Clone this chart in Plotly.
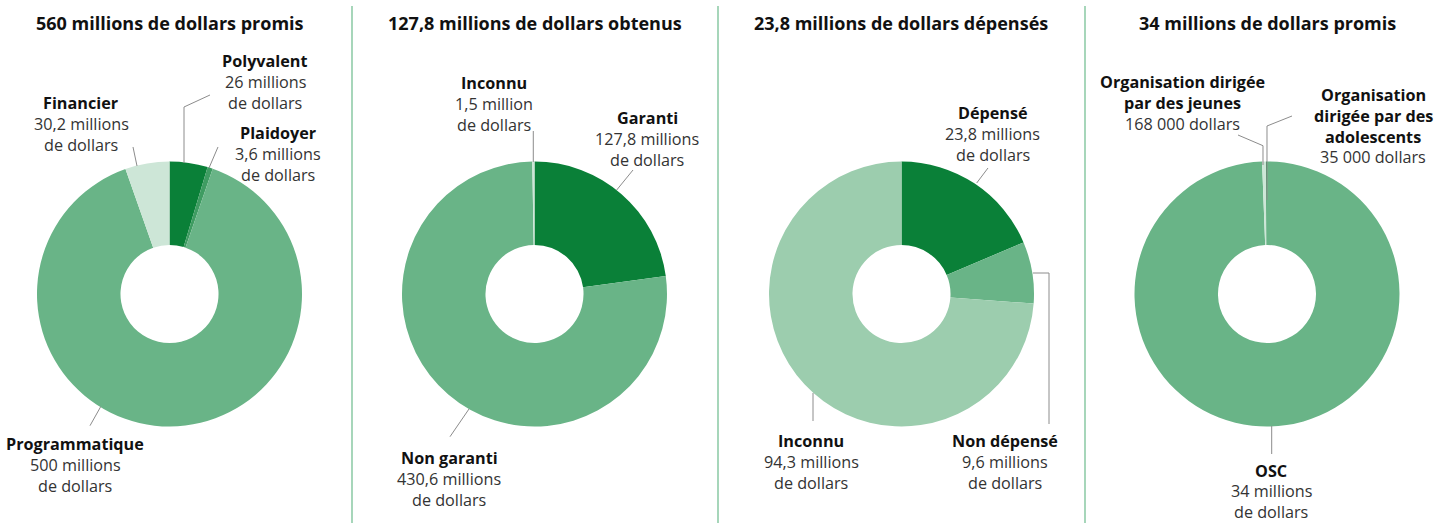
import plotly.graph_objects as go

W, H = 1439, 523

# ---- data (values in millions of dollars) ----
titles = [
    "560 millions de dollars promis",
    "127,8 millions de dollars obtenus",
    "23,8 millions de dollars dépensés",
    "34 millions de dollars promis",
]

promis_labels = ["Polyvalent", "Plaidoyer", "Programmatique", "Financier"]
promis_values = [26, 3.6, 500, 30.2]

obtenus_labels = ["Garanti", "Non garanti", "Inconnu"]
obtenus_values = [127.8, 430.6, 1.5]

depenses_labels = ["Dépensé", "Non dépensé", "Inconnu"]
depenses_values = [23.8, 9.6, 94.3]

osc_labels = ["OSC", "Organisation dirigée\npar des jeunes", "Organisation\ndirigée par des\nadolescents"]
osc_values = [34, 0.168, 0.035]

# ---- styling ----
DARK = "#0a8038"
MID = "#69b487"
MIDDARK = "#3f9c62"
LIGHT = "#9ccdae"
PALE = "#cde6d7"
SEP = "#6cbb8c"
LEADER = "#8c8c8c"
FONT = "Open Sans"

charts = [
    dict(labels=promis_labels, values=promis_values, colors=[DARK, MIDDARK, MID, PALE], cx=169.5),
    dict(labels=obtenus_labels, values=obtenus_values, colors=[DARK, MID, PALE], cx=534.5),
    dict(labels=depenses_labels, values=depenses_values, colors=[DARK, MID, LIGHT], cx=901.5),
    dict(labels=osc_labels, values=osc_values, colors=[MID, PALE, DARK], cx=1267),
]

CY, R, HOLE = 294, 132.5, 0.37

# label placement (centre x, y of first line) and leader paths, in pixels
placement = [
    [((265, 61), [(210, 95), (184, 107), (184, 163)]),
     ((278, 133), [(218, 147), (209, 168)]),
     ((75, 444), [(100.7, 406.7), (90, 425.7)]),
     ((81, 103), [(133, 147), (137, 166)])],
    [((647, 118), [(633, 170), (616.7, 190)]),
     ((449, 458), [(469, 409), (450, 436.7)]),
     ((494, 83), [(533.3, 131), (533.3, 162)])],
    [((993, 113), [(988, 168), (976.7, 183)]),
     ((1005, 441), [(1033, 273), (1049, 273), (1049, 424)]),
     ((811, 441), [(813, 393), (813, 421)])],
    [((1271, 470.5), [(1271.7, 426), (1271.7, 454)]),
     ((1182, 82), [(1238, 135), (1263, 145.7), (1263, 165)]),
     ((1373, 95), [(1292, 116), (1267, 126), (1267, 200)])],
]
LINE_H = 20.8


def px(x):
    return x / W


def py(y):
    return 1 - y / H


def fmt_value(v):
    if v >= 1:
        s = (f"{v:.1f}" if v != int(v) else f"{int(v)}").replace(".", ",")
        unit = "million" if v < 2 else "millions"
        return [f"{s} {unit}", "de dollars"]
    dollars = int(round(v * 1_000_000))
    return [f"{dollars:,}".replace(",", " ") + " dollars"]


fig = go.Figure()
annotations = []
shapes = []

for ci, ch in enumerate(charts):
    cx = ch["cx"]
    fig.add_trace(go.Pie(
        labels=[l.replace("\n", " ") for l in ch["labels"]],
        values=ch["values"],
        hole=HOLE,
        sort=False,
        direction="clockwise",
        rotation=0,
        textinfo="none",
        marker=dict(colors=ch["colors"], line=dict(width=0)),
        domain=dict(x=[px(cx - R), px(cx + R)], y=[py(CY + R), py(CY - R)]),
        showlegend=False,
        hoverinfo="label+value",
    ))
    annotations.append(dict(
        x=px(cx), y=py(23), xref="paper", yref="paper", text=titles[ci],
        showarrow=False, xanchor="center", yanchor="middle",
        font=dict(family=FONT, size=18, color="#111111", weight=700),
    ))
    for li, (lab, val) in enumerate(zip(ch["labels"], ch["values"])):
        (lx, ly), path = placement[ci][li]
        lines = [(t, True) for t in lab.split("\n")] + [(t, False) for t in fmt_value(val)]
        for k, (t, bold) in enumerate(lines):
            annotations.append(dict(
                x=px(lx), y=py(ly + k * LINE_H), xref="paper", yref="paper",
                text=t,
                showarrow=False, xanchor="center", yanchor="middle",
                font=dict(family=FONT, size=16.2, color="#111111" if bold else "#333333",
                          weight=700 if bold else 400),
            ))
        d = "M " + " L ".join(f"{px(x):.5f},{py(y):.5f}" for x, y in path)
        shapes.append(dict(type="path", path=d, xref="paper", yref="paper",
                           line=dict(color=LEADER, width=1)))

# vertical separators between panels
for sx in [352, 718, 1085]:
    shapes.append(dict(type="line", x0=px(sx), x1=px(sx), y0=py(6), y1=py(523),
                       xref="paper", yref="paper", line=dict(color=SEP, width=1.2)))

fig.update_layout(
    width=W, height=H,
    margin=dict(l=0, r=0, t=0, b=0),
    paper_bgcolor="white", plot_bgcolor="white",
    annotations=annotations, shapes=shapes,
    font=dict(family=FONT),
)

fig.write_html("out.html")
